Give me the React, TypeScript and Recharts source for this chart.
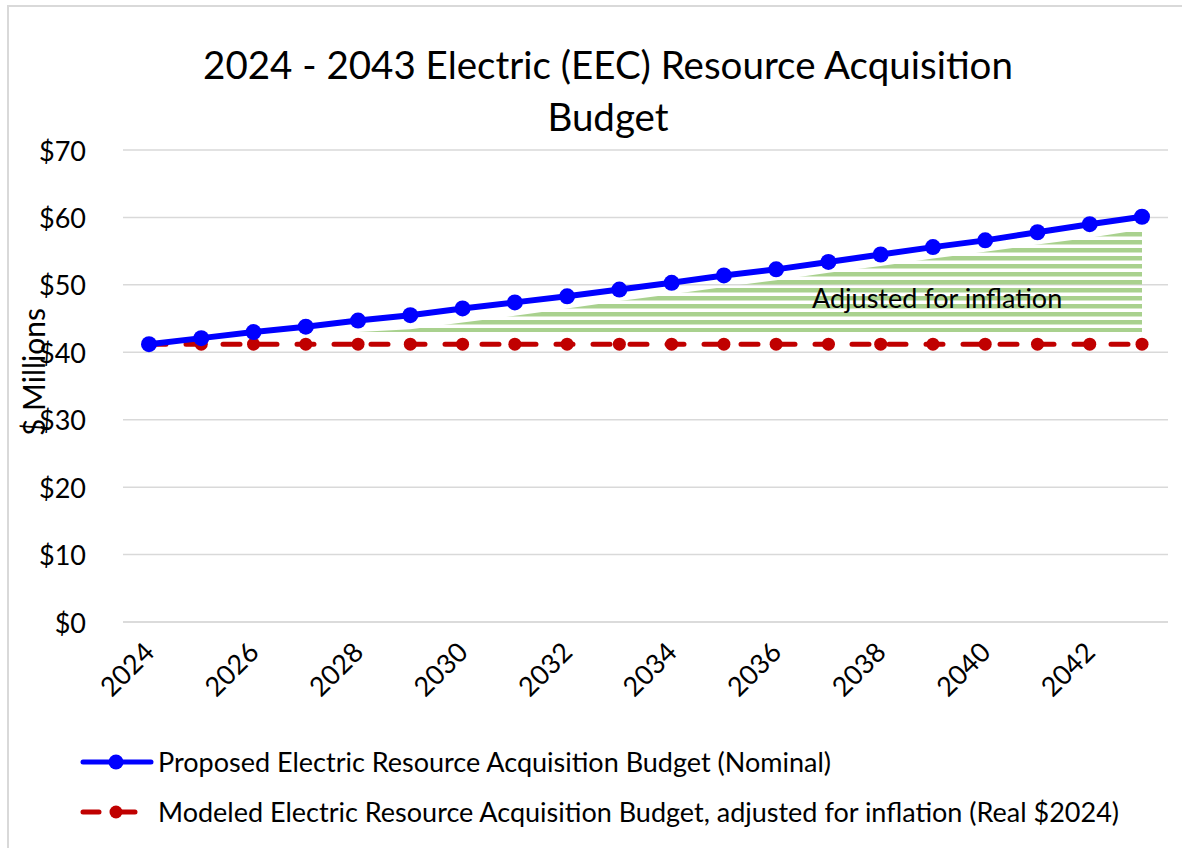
import { ComposedChart, Line, Area, XAxis, YAxis, CartesianGrid } from "recharts"

const YEARS = [
  "2024", "2025", "2026", "2027", "2028", "2029", "2030", "2031", "2032", "2033",
  "2034", "2035", "2036", "2037", "2038", "2039", "2040", "2041", "2042", "2043",
]
// $ millions
const NOMINAL = [
  41.2, 42.1, 43.0, 43.8, 44.7, 45.5, 46.5, 47.4, 48.3, 49.3,
  50.3, 51.4, 52.3, 53.4, 54.5, 55.6, 56.6, 57.8, 59.0, 60.1,
]
const REAL = [
  41.2, 41.2, 41.2, 41.2, 41.2, 41.2, 41.2, 41.2, 41.2, 41.2,
  41.2, 41.2, 41.2, 41.2, 41.2, 41.2, 41.2, 41.2, 41.2, 41.2,
]
// hatched "adjusted for inflation" band (low / high edge)
const BAND_LOW = [
  null, null, null, null, 43.0, 43.0, 43.0, 43.0, 43.0, 43.0,
  43.0, 43.0, 43.0, 43.0, 43.0, 43.0, 43.0, 43.0, 43.0, 43.0,
]
const BAND_HIGH = [
  null, null, null, null, 43.0, 43.4, 44.4, 45.4, 46.5, 47.6,
  48.6, 49.7, 50.7, 51.8, 52.8, 53.9, 54.9, 56.0, 57.0, 58.2,
]
const Y_TICKS = [0, 10, 20, 30, 40, 50, 60, 70]

const FONT = "Lato, 'Open Sans', sans-serif"

const data = YEARS.map((year, i) => ({
  year,
  nominal: NOMINAL[i],
  real: REAL[i],
  band: BAND_LOW[i] == null ? null : [BAND_LOW[i], BAND_HIGH[i]],
}))

const XTick = ({ x, y, payload }: any) => (
  <text
    x={x + 7}
    y={y + 24}
    transform={`rotate(-45, ${x + 7}, ${y + 24})`}
    textAnchor="end"
    fontSize={27}
    fontFamily={FONT}
    fill="#000"
  >
    {payload.value}
  </text>
)

const YTick = ({ y, payload }: any) => (
  <text x={86} y={y} textAnchor="end" dominantBaseline="central" fontSize={27} fontFamily={FONT} fill="#000">
    {`$${payload.value}`}
  </text>
)

function LegendRow({ color, dashed, label, top }: { color: string; dashed?: boolean; label: string; top: number }) {
  return (
    <div style={{ position: "absolute", left: 80, top, display: "flex", alignItems: "center" }}>
      <svg width={74} height={20}>
        <line
          x1={3} y1={10} x2={71} y2={10}
          stroke={color} strokeWidth={5}
          strokeLinecap="round"
          strokeDasharray={dashed ? "16 20" : undefined}
        />
        <circle cx={36} cy={10} r={dashed ? 6.5 : 7.5} fill={color} />
      </svg>
      <span style={{ marginLeft: 4, fontSize: 27, fontFamily: FONT, color: "#000", whiteSpace: "nowrap" }}>{label}</span>
    </div>
  )
}

export default function App() {
  return (
    <div style={{ position: "absolute", left: 0, top: 0, width: 1182, height: 848, overflow: "hidden", background: "#fff" }}>
      <div style={{ position: "absolute", left: 7, top: 5, width: 1300, height: 1000, border: "2px solid #d9d9d9" }} />

      <div style={{ position: "absolute", left: 0, top: 38, width: 1216, textAlign: "center", fontFamily: FONT, fontSize: 38.5, lineHeight: "52px", color: "#000" }}>
        2024 - 2043 Electric (EEC) Resource Acquisition
        <br />
        Budget
      </div>

      <ComposedChart
        width={1182}
        height={848}
        data={data}
        margin={{ top: 150, right: 14, bottom: 0, left: 0 }}
        style={{ position: "absolute", left: 0, top: 0 }}
      >
        <defs>
          <pattern id="hatch" patternUnits="userSpaceOnUse" width={8} height={8}>
            <rect x={0} y={0} width={8} height={4.5} fill="#a9d18e" />
          </pattern>
        </defs>
        <CartesianGrid vertical={false} stroke="#d9d9d9" strokeWidth={1.5} />
        <XAxis
          dataKey="year"
          height={226}
          padding={{ left: 26, right: 26 }}
          interval={1}
          tickLine={false}
          axisLine={{ stroke: "#d9d9d9", strokeWidth: 1.5 }}
          tick={<XTick />}
        />
        <YAxis
          width={123}
          domain={[0, 70]}
          ticks={Y_TICKS}
          axisLine={false}
          tickLine={false}
          tick={<YTick />}
        />
        <Area
          dataKey="band"
          type="linear"
          stroke="none"
          fill="url(#hatch)"
          fillOpacity={1}
          isAnimationActive={false}
          connectNulls={false}
        />
        <Line
          dataKey="real"
          type="linear"
          stroke="#c00000"
          strokeWidth={5}
          strokeLinecap="round"
          strokeDasharray="17 20"
          dot={{ r: 6.5, fill: "#c00000", stroke: "#c00000", strokeWidth: 0 }}
          isAnimationActive={false}
        />
        <Line
          dataKey="nominal"
          type="linear"
          stroke="#0000ff"
          strokeWidth={6}
          dot={{ r: 8, fill: "#0000ff", stroke: "#0000ff", strokeWidth: 0 }}
          isAnimationActive={false}
        />
      </ComposedChart>

      <div style={{ position: "absolute", left: 812, top: 281, fontFamily: FONT, fontSize: 27, color: "#000", whiteSpace: "nowrap" }}>
        Adjusted for inflation
      </div>

      <div
        style={{
          position: "absolute", left: 33, top: 372,
          transform: "translate(-50%, -50%) rotate(-90deg)",
          fontFamily: FONT, fontSize: 30, color: "#000", whiteSpace: "nowrap",
        }}
      >
        $ Millions
      </div>

      <LegendRow color="#0000ff" label="Proposed Electric Resource Acquisition Budget (Nominal)" top={745} />
      <LegendRow color="#c00000" dashed label="Modeled Electric Resource Acquisition Budget, adjusted for inflation (Real $2024)" top={795} />
    </div>
  )
}
